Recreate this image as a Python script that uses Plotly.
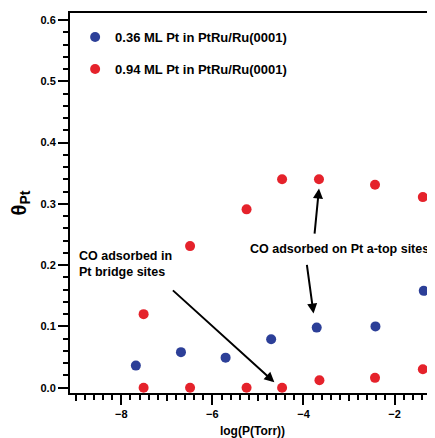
import plotly.graph_objects as go

# Data (log P in Torr, coverage theta_Pt)
x_036 = [-7.68, -6.69, -5.71, -4.71, -3.71, -2.42, -1.36]
y_036 = [0.036, 0.058, 0.049, 0.079, 0.098, 0.100, 0.158]

x_094_atop = [-7.51, -6.49, -5.25, -4.47, -3.66, -2.43, -1.38]
y_094_atop = [0.120, 0.231, 0.291, 0.340, 0.340, 0.331, 0.311]

x_094_bridge = [-7.51, -6.49, -5.25, -4.47, -3.65, -2.43, -1.38]
y_094_bridge = [0.0, 0.0, 0.0, 0.0, 0.012, 0.016, 0.030]

label_036 = "0.36 ML Pt in PtRu/Ru(0001)"
label_094 = "0.94 ML Pt in PtRu/Ru(0001)"

x_major_ticks = [-8, -6, -4, -2]
x_mid_ticks = [-9, -7, -5, -3]

BLUE = "#2c3f98"
RED = "#e5222b"
FONT = "Liberation Sans, Arial, sans-serif"

fig = go.Figure()
fig.add_trace(go.Scatter(x=x_036, y=y_036, mode="markers", name=label_036,
                         legendgroup="a", cliponaxis=False,
                         marker=dict(color=BLUE, size=10, line=dict(width=0))))
fig.add_trace(go.Scatter(x=x_094_atop + x_094_bridge, y=y_094_atop + y_094_bridge,
                         mode="markers", name=label_094, legendgroup="b",
                         cliponaxis=False,
                         marker=dict(color=RED, size=10, line=dict(width=0))))
# invisible trace to carry the odd-integer medium ticks on an overlay axis
fig.add_trace(go.Scatter(x=[x_mid_ticks[0]], y=[None], xaxis="x2", showlegend=False,
                         hoverinfo="skip"))

xr = [-9.126, -1.113]
fig.update_layout(
    width=427, height=430,
    margin=dict(l=62, r=0, t=5, b=45),
    paper_bgcolor="white", plot_bgcolor="white",
    font=dict(family=FONT, color="black", size=11, weight="bold"),
    showlegend=True,
    legend=dict(x=0.014, y=0.976, xanchor="left", yanchor="top",
                bgcolor="rgba(0,0,0,0)", font=dict(size=13, weight="bold"),
                tracegroupgap=12, traceorder="grouped", itemwidth=30),
    xaxis=dict(range=xr, tickvals=x_major_ticks, ticks="outside", ticklen=10,
               tickwidth=2, tickcolor="black", showline=True, linewidth=2,
               linecolor="black", mirror=True, showgrid=False, zeroline=False,
               automargin=False,
               tickfont=dict(size=11, weight="bold"),
               minor=dict(dtick=0.2, tick0=0, ticks="outside", ticklen=5,
                          tickwidth=1.5, tickcolor="black", showgrid=False),
               title=dict(text="log(P(Torr))", font=dict(size=12, weight="bold"),
                          standoff=12)),
    xaxis2=dict(range=xr, overlaying="x", matches="x", side="bottom",
                tickvals=x_mid_ticks, ticks="outside", ticklen=7, tickwidth=1.5,
                tickcolor="black", showticklabels=False, showgrid=False,
                zeroline=False, showline=False, automargin=False),
    yaxis=dict(range=[-0.0087, 0.6114], dtick=0.1, tick0=0, tickformat=".1f",
               ticks="outside", ticklen=10, tickwidth=2, tickcolor="black",
               showline=True, linewidth=2, linecolor="black", mirror=False,
               showgrid=False, zeroline=False, automargin=False,
               tickfont=dict(size=11, weight="bold"),
               minor=dict(dtick=0.02, tick0=0, ticks="outside", ticklen=5,
                          tickwidth=1.5, tickcolor="black", showgrid=False),
               title=dict(text="θ<sub>Pt</sub>", font=dict(size=20, weight="bold"),
                          standoff=13)),
)

ann_font = dict(family=FONT, size=12.5, color="black", weight="bold")
fig.add_annotation(x=-8.98, y=0.202, xref="x", yref="y", text="CO adsorbed in<br>Pt bridge sites",
                   showarrow=False, xanchor="left", yanchor="middle", align="left", font=ann_font)
fig.add_annotation(x=-4.64, y=0.009, ax=-6.90, ay=0.161, xref="x", yref="y",
                   axref="x", ayref="y", text="", showarrow=True, arrowhead=2,
                   arrowsize=1, arrowwidth=2, arrowcolor="black")
fig.add_annotation(x=-3.22, y=0.226, xref="x", yref="y", text="CO adsorbed on Pt a-top sites",
                   showarrow=False, xanchor="center", yanchor="middle", font=ann_font)
fig.add_annotation(x=-3.66, y=0.325, ax=-3.76, ay=0.249, xref="x", yref="y",
                   axref="x", ayref="y", text="", showarrow=True, arrowhead=2,
                   arrowsize=1, arrowwidth=2, arrowcolor="black")
fig.add_annotation(x=-3.78, y=0.121, ax=-3.93, ay=0.203, xref="x", yref="y",
                   axref="x", ayref="y", text="", showarrow=True, arrowhead=2,
                   arrowsize=1, arrowwidth=2, arrowcolor="black")

fig.write_html("out.html")
